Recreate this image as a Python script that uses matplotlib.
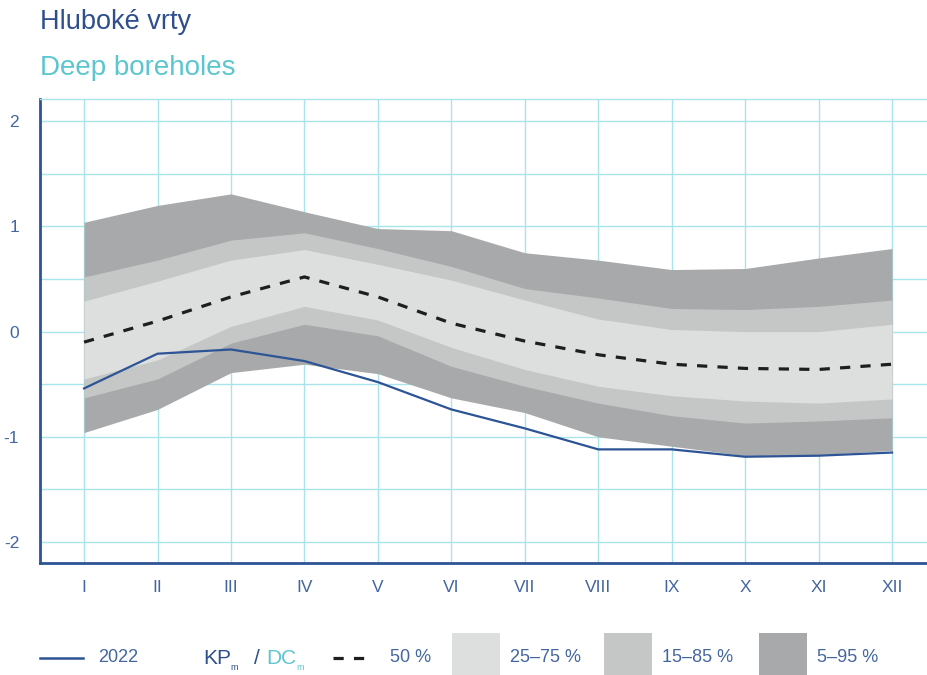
import matplotlib
matplotlib.use('Agg')
import matplotlib.pyplot as plt
from matplotlib.patches import Rectangle
from matplotlib.lines import Line2D

# months (roman numerals)
months = ['I', 'II', 'III', 'IV', 'V', 'VI', 'VII', 'VIII', 'IX', 'X', 'XI', 'XII']

# 2022 values
y2022 = [-0.54, -0.21, -0.17, -0.28, -0.48, -0.74, -0.92, -1.12, -1.12, -1.19, -1.18, -1.15]

# long-term percentiles
p50 = [-0.10, 0.10, 0.33, 0.52, 0.33, 0.08, -0.09, -0.22, -0.31, -0.35, -0.36, -0.31]
p25 = [-0.45, -0.27, 0.05, 0.24, 0.11, -0.15, -0.36, -0.52, -0.61, -0.66, -0.68, -0.64]
p75 = [0.29, 0.48, 0.68, 0.78, 0.64, 0.49, 0.30, 0.12, 0.02, 0.00, 0.00, 0.07]
p15 = [-0.63, -0.45, -0.11, 0.07, -0.04, -0.33, -0.52, -0.68, -0.80, -0.87, -0.85, -0.82]
p85 = [0.52, 0.68, 0.87, 0.94, 0.79, 0.62, 0.41, 0.32, 0.22, 0.21, 0.24, 0.30]
p05 = [-0.96, -0.74, -0.39, -0.31, -0.40, -0.63, -0.77, -1.00, -1.09, -1.18, -1.17, -1.13]
p95 = [1.04, 1.20, 1.31, 1.14, 0.98, 0.96, 0.75, 0.68, 0.59, 0.60, 0.70, 0.79]

# colours
c_dark = '#a7a9aa'
c_mid = '#c5c6c6'
c_light = '#dddede'
c_blue = '#2d5495'
c_cyan = '#5cc6cf'
c_grid = '#a9e4ea'
c_tick = '#4466a0'

plt.rcParams['font.family'] = ['Liberation Sans', 'DejaVu Sans']

fig = plt.figure(figsize=(9.28, 6.75), dpi=100)
ax = fig.add_axes([0.0431, 0.166, 0.9569, 0.687])

x = list(range(len(months)))
ax.fill_between(x, p05, p95, color=c_dark, lw=0, zorder=2)
ax.fill_between(x, p15, p85, color=c_mid, lw=0, zorder=3)
ax.fill_between(x, p25, p75, color=c_light, lw=0, zorder=4)
ax.plot(x, p50, color='#1e1e1e', lw=2.3, dashes=(3.2, 3.2), zorder=5)
ax.plot(x, y2022, color=c_blue, lw=1.6, zorder=6)

ax.set_xlim(-0.6, 11.49)
ax.set_ylim(-2.2, 2.21)

ax.set_xticks(x)
ax.set_xticklabels(months)
ax.set_yticks([v * 0.5 for v in range(-4, 5)])
ax.set_yticklabels(['' if v % 2 else str(v // 2) for v in range(-4, 5)])
ax.tick_params(length=0, colors=c_tick, labelsize=12.5)
ax.tick_params(axis='x', pad=12)
ax.tick_params(axis='y', pad=15)

ax.grid(True, color=c_grid, lw=1.0, zorder=1)
ax.set_axisbelow(True)

ax.spines['right'].set_visible(False)
ax.spines['top'].set_color(c_grid)
ax.spines['top'].set_linewidth(1.0)
ax.spines['left'].set_color(c_blue)
ax.spines['left'].set_linewidth(2.0)
ax.spines['bottom'].set_color(c_blue)
ax.spines['bottom'].set_linewidth(2.0)

# titles
fig.text(40 / 928, 1 - 22 / 675, 'Hluboké vrty', color='#2f4e8c', fontsize=19.5, va='center', ha='left')
fig.text(40 / 928, 1 - 68 / 675, 'Deep boreholes', color=c_cyan, fontsize=20, va='center', ha='left')


# legend drawn by hand along the bottom
def fx(px):
    return px / 928


def fy(py):
    return 1 - py / 675


ly = fy(658)
fig.add_artist(Line2D([fx(40), fx(83)], [ly, ly], color=c_blue, lw=1.8))
fig.text(fx(98), ly, '2022', color=c_tick, fontsize=13, va='center')

fig.text(fx(203), ly, 'KP', color='#2f4e8c', fontsize=15, va='center')
fig.text(fx(230), fy(668), 'm', color='#2f4e8c', fontsize=6.5, va='center')
fig.text(fx(254), ly, '/', color='#2f4e8c', fontsize=15, va='center')
fig.text(fx(266), ly, 'DC', color=c_cyan, fontsize=15, va='center')
fig.text(fx(296), fy(668), 'm', color=c_cyan, fontsize=6.5, va='center')

fig.add_artist(Line2D([fx(333), fx(366)], [ly, ly], color='#1e1e1e', lw=2.3, dashes=(3.2, 3.2)))
fig.text(fx(390), ly, '50 %', color=c_tick, fontsize=13, va='center')

boxes = [(452, c_light, '25–75 %'), (604, c_mid, '15–85 %'), (759, c_dark, '5–95 %')]
for bx, col, lab in boxes:
    fig.add_artist(Rectangle((fx(bx), 0), fx(48), fy(633), color=col, lw=0))
    fig.text(fx(bx + 58), ly, lab, color=c_tick, fontsize=13, va='center')

fig.savefig('out.png', dpi=100)
